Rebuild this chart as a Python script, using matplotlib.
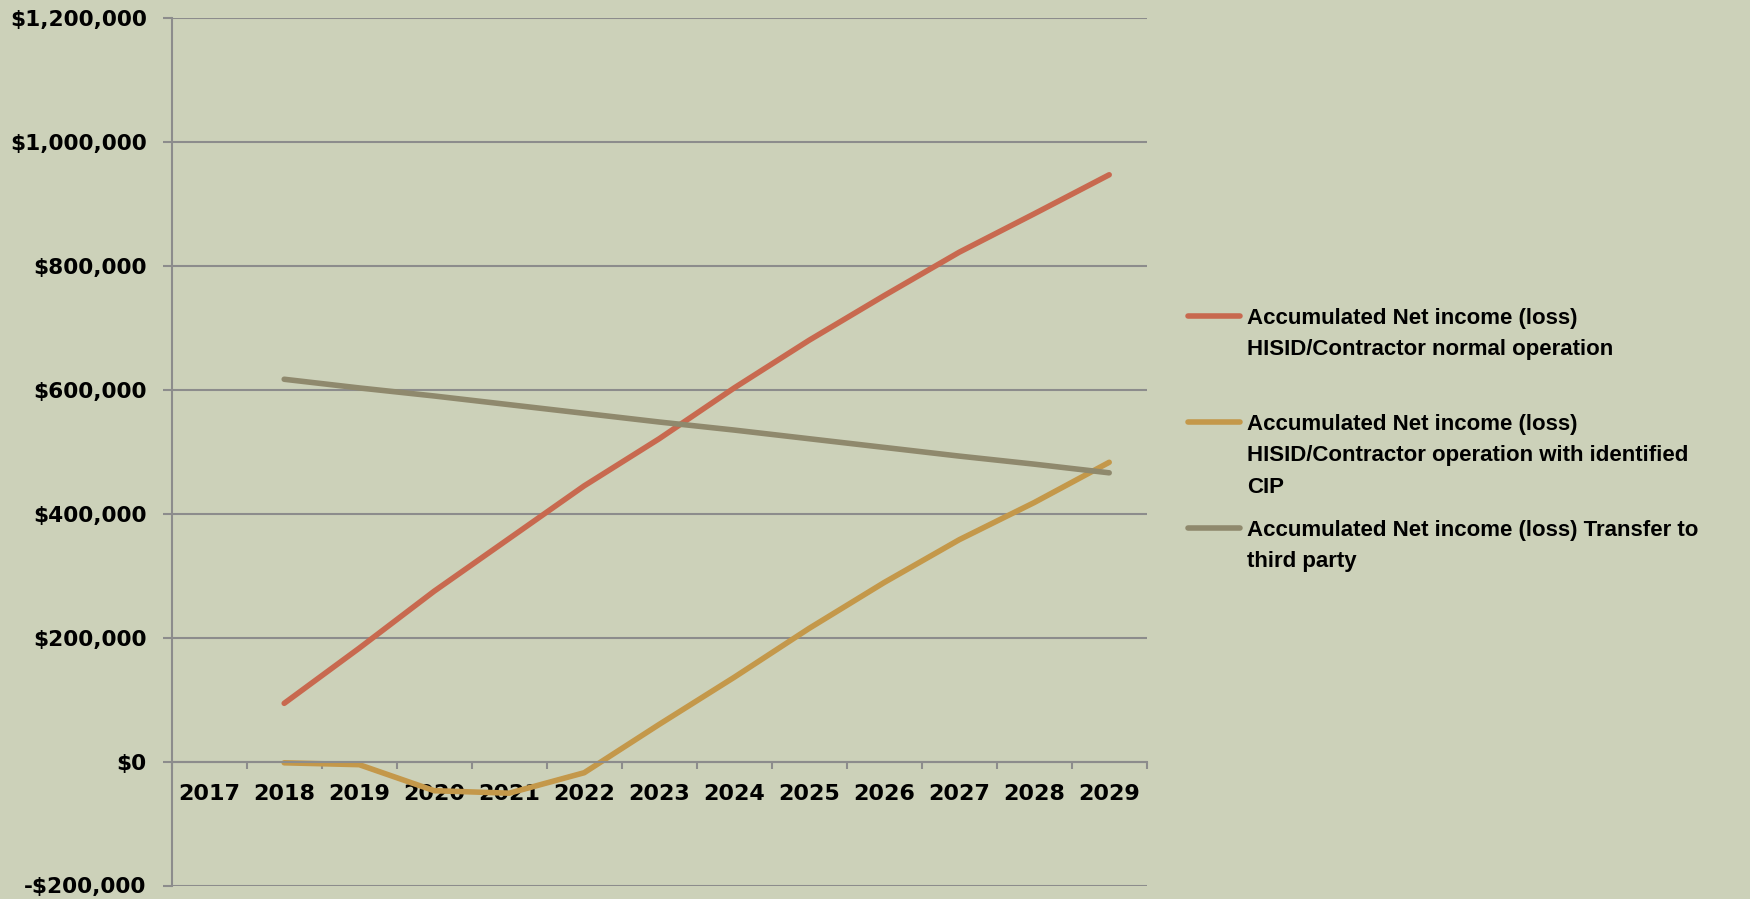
import matplotlib
matplotlib.use("Agg")
import matplotlib.pyplot as plt
import numpy as np
from matplotlib.lines import Line2D
from matplotlib.ticker import FuncFormatter, MultipleLocator

plt.rcParams['font.family'] = 'DejaVu Sans'
plt.rcParams['font.weight'] = 'bold'

# Years on the category axis (2017 has no values)
years = ['2017', '2018', '2019', '2020', '2021', '2022', '2023',
         '2024', '2025', '2026', '2027', '2028', '2029']

# Accumulated net income per scenario
normal_op = [np.nan, 94000, 183000, 275000, 360000, 445000, 521000,
             603000, 680000, 752000, 822000, 884000, 947000]
with_cip = [np.nan, -2000, -5000, -47000, -51000, -18000, 60000,
            136000, 215000, 289000, 358000, 418000, 483000]
third_party = [np.nan, 617000, 603000, 590000, 576000, 562000, 548000,
               535000, 521000, 507000, 493000, 480000, 466000]

labels = ['Accumulated Net income (loss)\nHISID/Contractor normal operation',
          'Accumulated Net income (loss)\nHISID/Contractor operation with identified\nCIP',
          'Accumulated Net income (loss) Transfer to\nthird party']
colors = ['#C8694F', '#C4984A', '#8F896D']

bg = '#CCD1B9'
grid_c = '#8C8C8C'

W, H = 1750, 899
fig = plt.figure(figsize=(W / 100, H / 100), dpi=100)
fig.patch.set_facecolor(bg)
ax = fig.add_axes([171.7 / W, (H - 885.5) / H, 975 / W, 867.5 / H])
ax.set_facecolor(bg)

x = np.arange(len(years))
for vals, c in zip([normal_op, with_cip, third_party], colors):
    ax.plot(x, vals, color=c, lw=4, solid_capstyle='round', solid_joinstyle='round')

ax.set_xlim(-0.5, len(years) - 0.5)
ax.set_ylim(-200000, 1200000)

# y axis
ax.yaxis.set_major_locator(MultipleLocator(200000))
ax.yaxis.set_major_formatter(FuncFormatter(
    lambda v, p: ('-$' if v < 0 else '$') + f'{abs(int(round(v))):,}'))
ax.yaxis.grid(True, color=grid_c, lw=1.5)
ax.set_axisbelow(True)
ax.tick_params(axis='y', length=6.5, width=1.5, color=grid_c, pad=11.5,
               labelsize=15.6)

# x axis: tick marks between categories, labels in the middle
ax.set_xticks(np.arange(-0.5, len(years)), [''] * (len(years) + 1))
ax.set_xticks(x, years, minor=True)
ax.tick_params(axis='x', which='major', length=5, width=1.5, color=grid_c)
ax.tick_params(axis='x', which='minor', length=0, pad=16, labelsize=16)

ax.spines['bottom'].set_position(('data', 0))
for s in ['left', 'bottom']:
    ax.spines[s].set_color(grid_c)
    ax.spines[s].set_linewidth(1.5)
ax.spines['top'].set_visible(False)
ax.spines['right'].set_visible(False)

# legend, handle next to first line of each label
leg_top = 316
entry_gap = 106
line_gap = 31.3
for i, (lab, c) in enumerate(zip(labels, colors)):
    y0 = leg_top + i * entry_gap
    fig.add_artist(Line2D([1188 / W, 1240 / W], [1 - y0 / H, 1 - y0 / H],
                          transform=fig.transFigure, color=c, lw=4,
                          solid_capstyle='round'))
    for j, line in enumerate(lab.split('\n')):
        yb = y0 + j * line_gap + 8.1
        fig.text(1247 / W, 1 - yb / H, line, ha='left', va='baseline',
                 fontsize=16, family='Liberation Sans', fontweight='bold',
                 color='black')

fig.savefig('out.png', dpi=100, facecolor=bg)
